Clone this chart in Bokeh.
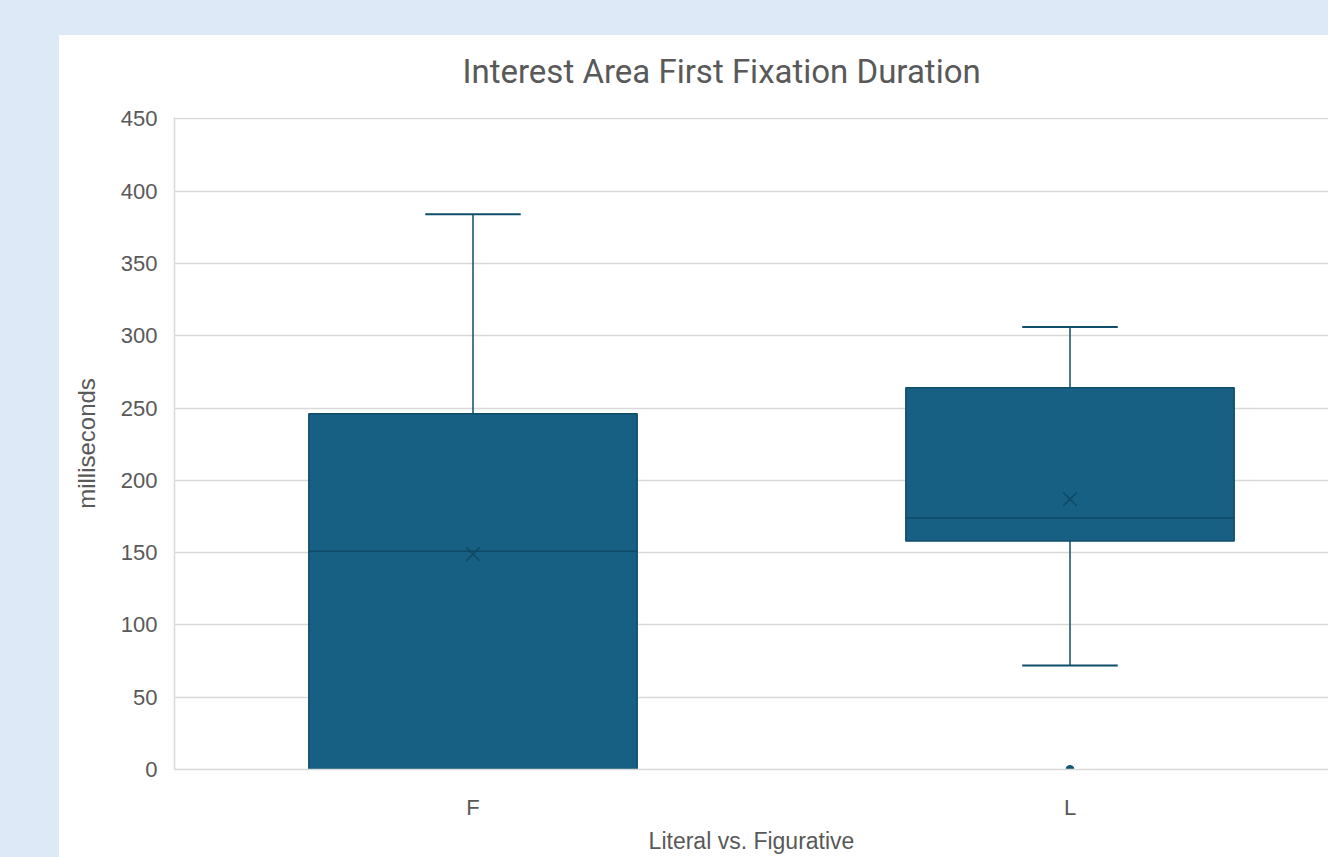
from bokeh.plotting import figure
from bokeh.models import Range1d, FixedTicker, Title
from bokeh.embed import file_html
from bokeh.resources import INLINE

# Box-plot statistics (milliseconds)
categories = ["F", "L"]
whisker_low = [0, 72]
q1 = [0, 158]
median = [151, 174]
q3 = [246, 264]
whisker_high = [384, 306]
mean = [149, 187]
outlier_cat = ["L"]
outlier_val = [0]

y_ticks = [0, 50, 100, 150, 200, 250, 300, 350, 400, 450]

FILL = "#176083"
EDGE = "#0f4d6b"
TEXT = "#595959"
GRID = "#d9d9d9"
PAGE = "#dde9f6"

pos = {c: i + 0.5 for i, c in enumerate(categories)}
xs = [pos[c] for c in categories]
box_w = 0.55
cap_w = 0.16

# transparent canvas over a page background that carries the white chart card
p = figure(width=1328, height=857, output_backend="svg", toolbar_location=None,
           x_range=Range1d(0, 1154 / 597), y_range=Range1d(0, 451),
           min_border_left=174, min_border_right=0, min_border_top=117,
           min_border_bottom=88, border_fill_alpha=0,
           background_fill_color="white", outline_line_color=None,
           styles={"background-color": PAGE,
                   "background-image": "linear-gradient(#ffffff, #ffffff)",
                   "background-size": "1269px 822px",
                   "background-position": "59px 35px",
                   "background-repeat": "no-repeat"})

p.title.text = "Interest Area First Fixation Duration"
p.title.text_font = "Roboto"
p.title.text_font_style = "normal"
p.title.text_font_size = "33px"
p.title.text_color = TEXT
p.title.align = "left"
p.title.offset = 288
p.title.standoff = 53

# whiskers
p.segment(x0=xs, y0=q3, x1=xs, y1=whisker_high, line_color=EDGE, line_width=1.5)
p.segment(x0=xs, y0=whisker_low, x1=xs, y1=q1, line_color=EDGE, line_width=1.5)
p.segment(x0=[x - cap_w / 2 for x in xs], y0=whisker_high,
          x1=[x + cap_w / 2 for x in xs], y1=whisker_high, line_color=EDGE, line_width=2)
p.segment(x0=[x - cap_w / 2 for x in xs], y0=whisker_low,
          x1=[x + cap_w / 2 for x in xs], y1=whisker_low, line_color=EDGE, line_width=2)

# boxes
p.vbar(x=xs, width=box_w, bottom=q1, top=q3, fill_color=FILL,
       line_color=EDGE, line_width=1.5)

# medians
p.segment(x0=[x - box_w / 2 for x in xs], y0=median,
          x1=[x + box_w / 2 for x in xs], y1=median, line_color="#0e4a66", line_width=1.5)

# means
p.scatter(x=xs, y=mean, marker="x", size=19, line_color="#0e4a66", line_width=1.5)

# outliers
p.scatter(x=[pos[c] for c in outlier_cat], y=outlier_val, marker="circle", size=8,
          fill_color="#0f5474", line_color="#0f5474")

p.xgrid.grid_line_color = None
p.ygrid.grid_line_color = GRID
p.ygrid.grid_line_width = 1.5

p.yaxis.ticker = FixedTicker(ticks=y_ticks)
p.xaxis.ticker = FixedTicker(ticks=xs)
p.xaxis.major_label_overrides = {x: c for x, c in zip(xs, categories)}

for ax in (p.xaxis[0], p.yaxis[0]):
    ax.axis_line_color = GRID
    ax.axis_line_width = 1.5
    ax.major_tick_line_color = None
    ax.minor_tick_line_color = None
    ax.major_label_text_font = "Liberation Sans"
    ax.major_label_text_font_size = "22px"
    ax.major_label_text_color = TEXT

p.yaxis.major_label_standoff = 11
p.xaxis.major_label_standoff = 19
p.yaxis.axis_label = "milliseconds"
p.yaxis.axis_label_text_font = "Liberation Sans"
p.yaxis.axis_label_text_font_style = "normal"
p.yaxis.axis_label_text_font_size = "24px"
p.yaxis.axis_label_text_color = TEXT
p.yaxis.axis_label_standoff = 18

# x-axis title, centred on the full category span
xlabel = Title(text="Literal vs. Figurative", align="center", offset=20,
               text_font="Liberation Sans", text_font_style="normal",
               text_font_size="23px", text_color=TEXT, standoff=6)
p.add_layout(xlabel, "below")

open("out.html", "w").write(file_html(p, INLINE))
